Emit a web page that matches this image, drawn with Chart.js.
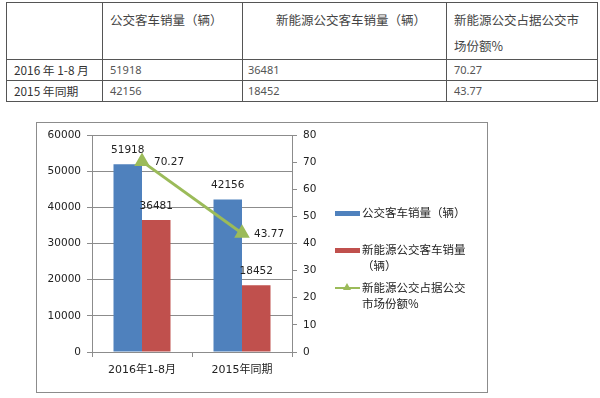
<!DOCTYPE html>
<html>
<head>
<meta charset="utf-8">
<script src="https://cdn.jsdelivr.net/npm/chart.js@4/dist/chart.umd.min.js"></script>
<style>
	body { margin: 0; background: #fff; width: 600px; height: 398px; position: relative; overflow: hidden; }
	#tbl { position: absolute; left: 6px; top: 2px; border-collapse: collapse; table-layout: fixed;
		font: 12.5px "Noto Sans CJK SC", sans-serif; color: #444; }
	#tbl td { border: 1px solid #555; padding: 0 0 0 7px; vertical-align: middle; white-space: nowrap; }
	#tbl tr.head td { height: 52px; vertical-align: top; line-height: 26px; padding-top: 4px; box-sizing: border-box; }
	#tbl tr.row td { height: 21px; line-height: 20px; box-sizing: border-box; }
	#tbl td.name { font-size: 11.8px; color: #333; }
	#tbl td.num { font: 11px "Noto Sans", sans-serif; color: #555; }
	#box { position: absolute; left: 36px; top: 122px; width: 452px; height: 271px; border: 1px solid #8c8c8c; box-sizing: border-box; }
	#chart { position: absolute; left: 36px; top: 122px; }
	.key { position: absolute; }
	.lbl { position: absolute; left: 362px; width: 112px; font: 11.5px "Noto Sans CJK SC", sans-serif; line-height: 15.5px; color: #222; }
</style>
</head>
<body>

<table id="tbl">
	<colgroup><col style="width:96px"><col style="width:140px"><col style="width:204px"><col style="width:151px"></colgroup>
	<tr class="head">
		<td></td>
		<td>公交客车销量（辆）</td>
		<td style="padding-left:33px">新能源公交客车销量（辆）</td>
		<td>新能源公交占据公交市<br>场份额%</td>
	</tr>
	<tr class="row" id="row0"></tr>
	<tr class="row" id="row1"></tr>
</table>

<div id="box"></div>
<canvas id="chart" width="300" height="270"></canvas>
<div id="legend"></div>

<script>
// data
const categories = ['2016年1-8月', '2015年同期'];
const rowNames = ['2016 年 1-8 月', '2015 年同期'];
const busSales = [51918, 42156];
const newEnergySales = [36481, 18452];
const marketShare = [70.27, 43.77];
const seriesNames = ['公交客车销量（辆）', '新能源公交客车销量（辆）', '新能源公交占据公交市场份额%'];
const leftTicks = [0, 10000, 20000, 30000, 40000, 50000, 60000];
const rightTicks = [0, 10, 20, 30, 40, 50, 60, 70, 80];

const blue = '#4f81bd';
const red = '#c0504d';
const green = '#9bbb59';
const gridColor = '#8c8c8c';
const tickFont = { family: '"DejaVu Sans", "Noto Sans CJK SC", sans-serif', size: 10.5 };

// table rows
for (var i = 0; i < categories.length; i++) {
	var tr = document.getElementById('row' + i);
	tr.innerHTML = '<td class="name">' + rowNames[i] + '</td>' +
		'<td class="num">' + busSales[i] + '</td>' +
		'<td class="num" style="padding-left:5px">' + newEnergySales[i] + '</td>' +
		'<td class="num">' + marketShare[i].toFixed(2) + '</td>';
}

// legend on the right of the chart
var legend = document.getElementById('legend');
var legendTops = [205, 242, 280];
legend.innerHTML =
	'<div class="key" style="left:335px;top:211px;width:25px;height:5px;background:' + blue + '"></div>' +
	'<div class="key" style="left:335px;top:248px;width:25px;height:5px;background:' + red + '"></div>' +
	'<div class="key" style="left:335px;top:287px;width:25px;height:2px;background:' + green + '"></div>' +
	'<div class="key" style="left:343px;top:283px;width:0;height:0;border-left:4px solid transparent;border-right:4px solid transparent;border-bottom:7px solid ' + green + '"></div>';
for (var j = 0; j < seriesNames.length; j++) {
	legend.innerHTML += '<div class="lbl" style="top:' + legendTops[j] + 'px">' + seriesNames[j] + '</div>';
}

// value labels over bars and beside points
const valueLabels = {
	id: 'valueLabels',
	afterDatasetsDraw(chart) {
		var ctx = chart.ctx;
		ctx.save();
		ctx.font = '10.5px "DejaVu Sans", sans-serif';
		ctx.fillStyle = '#222';
		ctx.textBaseline = 'middle';
		chart.data.datasets.forEach(function(ds, di) {
			var meta = chart.getDatasetMeta(di);
			meta.data.forEach(function(el, k) {
				var v = ds.data[k];
				if (ds.type === 'line') {
					ctx.textAlign = 'left';
					ctx.fillText(v.toFixed(2), el.x + 12, el.y + 1);
				} else {
					ctx.textAlign = 'center';
					ctx.fillText(String(v), el.x, el.y - 14);
				}
			});
		});
		ctx.restore();
	}
};

new Chart(document.getElementById('chart').getContext('2d'), {
	data: {
		labels: categories,
		datasets: [
			{
				type: 'line',
				label: seriesNames[2],
				data: marketShare,
				yAxisID: 'y1',
				borderColor: green,
				backgroundColor: green,
				borderWidth: 3,
				pointStyle: 'triangle',
				pointRadius: 6,
				order: 0
			},
			{
				type: 'bar',
				label: seriesNames[0],
				data: busSales,
				yAxisID: 'y',
				backgroundColor: blue,
				categoryPercentage: 0.57,
				barPercentage: 1,
				order: 1
			},
			{
				type: 'bar',
				label: seriesNames[1],
				data: newEnergySales,
				yAxisID: 'y',
				backgroundColor: red,
				categoryPercentage: 0.57,
				barPercentage: 1,
				order: 1
			}
		]
	},
	options: {
		responsive: false,
		animation: false,
		layout: { padding: { top: 13, left: 0, right: 0, bottom: 0 } },
		plugins: {
			legend: { display: false },
			tooltip: { enabled: false }
		},
		scales: {
			x: {
				offset: true,
				grid: { offset: true, drawOnChartArea: false, color: gridColor, tickLength: 5 },
				border: { color: gridColor },
				ticks: { font: { family: '"DejaVu Sans", "Noto Sans CJK SC", sans-serif', size: 11 }, color: '#222', padding: 7 },
				afterFit: function(scale) { scale.height = 40; }
			},
			y: {
				position: 'left',
				min: leftTicks[0],
				max: leftTicks[leftTicks.length - 1],
				afterBuildTicks: function(scale) { scale.ticks = leftTicks.map(function(v) { return { value: v }; }); },
				grid: { color: gridColor, tickLength: 5 },
				border: { color: gridColor },
				ticks: { font: tickFont, color: '#222', padding: 6, callback: function(v) { return String(v); } },
				afterFit: function(scale) { scale.width = 56; }
			},
			y1: {
				position: 'right',
				min: rightTicks[0],
				max: rightTicks[rightTicks.length - 1],
				afterBuildTicks: function(scale) { scale.ticks = rightTicks.map(function(v) { return { value: v }; }); },
				grid: { drawOnChartArea: false, color: gridColor, tickLength: 5 },
				border: { color: gridColor },
				ticks: { font: tickFont, color: '#222', padding: 6, callback: function(v) { return String(v); } },
				afterFit: function(scale) { scale.width = 44; }
			}
		}
	},
	plugins: [valueLabels]
});
</script>
</body>
</html>
